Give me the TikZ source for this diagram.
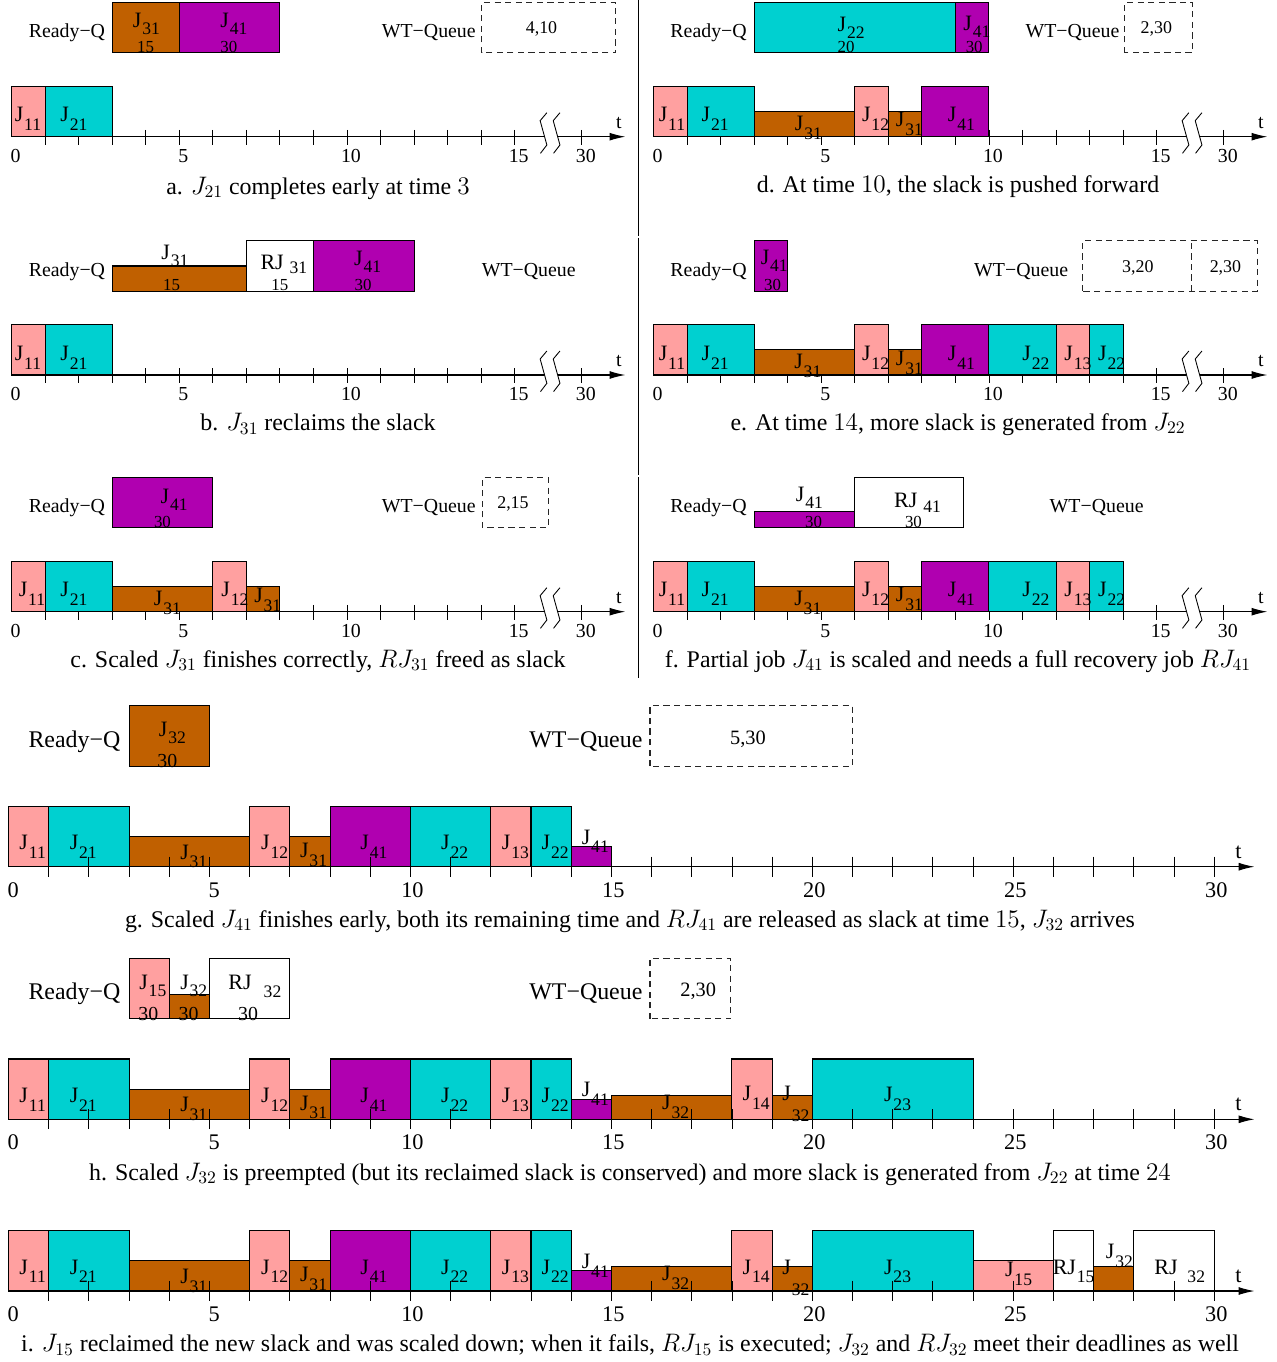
\documentclass[tikz,border=0pt]{standalone}
\usepackage[no-math]{fontspec}
\setmainfont{Liberation Serif}
\usetikzlibrary{arrows.meta}
\definecolor{jpink}{HTML}{FFA0A0}
\definecolor{jcyan}{HTML}{00D0D0}
\definecolor{jbrown}{HTML}{C06000}
\definecolor{jpurple}{HTML}{B000B0}
\newcommand\fsRQ{\fontsize{11.3}{13}\selectfont}
\newcommand\fsRQb{\fontsize{13.6}{16}\selectfont}
\newcommand\fsJ{\fontsize{12.5}{15}\selectfont}
\newcommand\fsN{\fontsize{9.6}{11}\selectfont}
\newcommand\fsNb{\fontsize{11.3}{13}\selectfont}
\newcommand\fsW{\fontsize{10.2}{12}\selectfont}
\newcommand\fsWb{\fontsize{11.6}{13}\selectfont}
\newcommand\fsT{\fontsize{11.3}{13}\selectfont}
\newcommand\fsTb{\fontsize{12.7}{15}\selectfont}
\newcommand\fsC{\fontsize{13.6}{16}\selectfont}
\newcommand\jj[2]{#1\kern0.04em\raisebox{-0.4em}{\scalebox{0.8}{#2}}}
\newcommand\jq[2]{#1\kern0.04em\raisebox{-0.33em}{\scalebox{0.8}{#2}}}
\newcommand\jx[3]{#1\kern0.04em\raisebox{#3}{\scalebox{0.8}{#2}}}
\newcommand\rj[2]{RJ\kern#2\raisebox{-0.2em}{\scalebox{0.8}{#1}}}
\tikzset{
 bx/.style={draw=black, line width=0.6pt},
 pk/.style={bx, fill=jpink}, cy/.style={bx, fill=jcyan},
 br/.style={bx, fill=jbrown}, pu/.style={bx, fill=jpurple}, wh/.style={bx, fill=white},
 dbox/.style={draw=black!85, line width=0.6pt, dash pattern=on 3.5pt off 2.5pt},
 axisline/.style={line width=0.6pt, -{Latex[length=9pt,width=4.5pt]}},
 tk/.style={line width=0.5pt},
 sep/.style={line width=0.5pt},
 jl/.style={anchor=base, inner sep=0pt, font=\fsJ},
 num/.style={anchor=base, inner sep=0pt, font=\fsN},
 numb/.style={anchor=base, inner sep=0pt, font=\fsNb},
 rq/.style={anchor=base east, inner sep=0pt, font=\fsRQ},
 rqb/.style={anchor=base east, inner sep=0pt, font=\fsRQb},
 wv/.style={inner sep=0pt, font=\fsW},
 wvb/.style={inner sep=0pt, font=\fsWb},
 tl/.style={inner sep=0pt, font=\fsT},
 tlb/.style={inner sep=0pt, font=\fsTb},
 captxt/.style={inner sep=0pt, font=\fsC},
}
\newcommand\smallaxis[1]{%
  \foreach \i in {1,...,15} {\draw[tk] (\i,0.2) -- (\i,-0.24);}
  \draw[tk] (17,0.2) -- (17,-0.24);
  \draw[axisline] (0,0) -- (18.3,0);
  \fill[white] (15.96,0.715) -- (15.76,0.477) -- (15.96,-0.247) -- (15.77,-0.495)
     -- (16.16,-0.495) -- (16.35,-0.247) -- (16.15,0.477) -- (16.35,0.715) -- cycle;
  \foreach \v/\p in {0/0,5/5,10/10,15/15,30/17} {\node[tl] (#1n\v) at (\p+0.12,-0.57) {\v};}
  \draw[tk] (15.96,0.715) -- (15.76,0.477) -- (15.96,-0.247) -- (15.77,-0.495);
  \draw[tk] (16.35,0.715) -- (16.15,0.477) -- (16.35,-0.247) -- (16.16,-0.495);
  \node[tl] (#1t) at (18.11,0.41) {t};
}
\newcommand\bigaxis[1]{%
  \draw[axisline] (0,0) -- (31,0);
  \foreach \v/\p in {0/0.12,5/5.12,10/10.05,15/15.05,20/20.05,25/25.05,30/30.05} {\node[tlb] (#1n\v) at (\p,-0.58) {\v};}
  \node[tlb] (#1t) at (30.6,0.37) {t};
}
\newcommand\bigticks{\foreach \i in {1,...,30} {\draw[tk] (\i,0.25) -- (\i,-0.25);}}
\newcommand\bigboxes{%
  \draw[pk] (0,0) rectangle (1,1.5);
  \draw[cy] (1,0) rectangle (3,1.5);
  \draw[br] (3,0) rectangle (6,0.75);
  \draw[pk] (6,0) rectangle (7,1.5);
  \draw[br] (7,0) rectangle (8,0.75);
  \draw[pu] (8,0) rectangle (10,1.5);
  \draw[cy] (10,0) rectangle (12,1.5);
  \draw[pk] (12,0) rectangle (13,1.5);
  \draw[cy] (13,0) rectangle (14,1.5);
  \draw[pu] (14,0) rectangle (15,0.5);
}
\newcommand\biglabels[1]{%
  \node[jl] (#1l1) at (0.6,0.42) {\jj{J}{11}};
  \node[jl] (#1l2) at (1.86,0.42) {\jj{J}{21}};
  \node[jl] (#1l3) at (4.61,0.19) {\jj{J}{31}};
  \node[jl] (#1l4) at (6.62,0.42) {\jj{J}{12}};
  \node[jl] (#1l5) at (7.59,0.23) {\jj{J}{31}};
  \node[jl] (#1l6) at (9.09,0.42) {\jj{J}{41}};
  \node[jl] (#1l7) at (11.1,0.42) {\jj{J}{22}};
  \node[jl] (#1l8) at (12.61,0.42) {\jj{J}{13}};
  \node[jl] (#1l9) at (13.6,0.42) {\jj{J}{22}};
  \node[jl] (#1l10) at (14.6,0.56) {\jj{J}{41}};
}
\begin{document}
\begin{tikzpicture}[x=0.02cm,y=-0.02cm]
\useasboundingbox (0,0) rectangle (1276,1362);
\draw[sep] (638,0) -- (638,235.5);
\draw[sep] (638,237.5) -- (638,475);
\draw[sep] (638,477) -- (638,678);

% ---------------- panel a
\begin{scope}[shift={(11.5,136.7)},x=0.671cm,y=0.671cm]
 \smallaxis{a}
 \draw[pk] (0,0) rectangle (1,1.5);
 \draw[cy] (1,0) rectangle (3,1.5);
 \node[jl] (al1) at (0.49,0.44) {\jj{J}{11}};
 \node[jl] (al2) at (1.86,0.44) {\jj{J}{21}};
 \node[rq] (arq) at (2.8,2.95) {Ready−Q};
 \draw[br] (3,2.5) rectangle (5,4);
 \draw[pu] (5,2.5) rectangle (8,4);
 \node[jl] (aq1) at (4.02,3.27) {\jq{J}{31}};
 \node[num] (aq1n) at (4.0,2.52) {15};
 \node[jl] (aq2) at (6.63,3.27) {\jq{J}{41}};
 \node[num] (aq2n) at (6.48,2.52) {30};
 \node[rq] (awt) at (13.85,2.95) {WT−Queue};
 \draw[dbox] (14.02,2.5) rectangle (18.02,4);
 \node[wv] (aw1) at (15.8,3.2) {4,10};
\end{scope}

% ---------------- panel b
\begin{scope}[shift={(11.5,375)},x=0.671cm,y=0.671cm]
 \smallaxis{b}
 \draw[pk] (0,0) rectangle (1,1.5);
 \draw[cy] (1,0) rectangle (3,1.5);
 \node[jl] (bl1) at (0.49,0.44) {\jj{J}{11}};
 \node[jl] (bl2) at (1.86,0.44) {\jj{J}{21}};
 \node[rq] (brq) at (2.8,2.95) {Ready−Q};
 \draw[br] (3,2.5) rectangle (7,3.25);
 \draw[wh] (7,2.5) rectangle (9,4);
 \draw[pu] (9,2.5) rectangle (12,4);
 \node[jl] (bq1) at (4.87,3.45) {\jq{J}{31}};
 \node[num] (bq1n) at (4.77,2.52) {15};
 \node[jl] (bq2) at (8.12,3.15) {\rj{31}{0.27em}};
 \node[num] (bq2n) at (8.0,2.52) {15};
 \node[jl] (bq3) at (10.62,3.27) {\jq{J}{41}};
 \node[num] (bq3n) at (10.48,2.52) {30};
 \node[rq] (bwt) at (16.83,2.95) {WT−Queue};
\end{scope}

% ---------------- panel c
\begin{scope}[shift={(11.5,611.7)},x=0.671cm,y=0.671cm]
 \smallaxis{c}
 \draw[pk] (0,0) rectangle (1,1.5);
 \draw[cy] (1,0) rectangle (3,1.5);
 \draw[br] (3,0) rectangle (6,0.75);
 \draw[pk] (6,0) rectangle (7,1.5);
 \draw[br] (7,0) rectangle (8,0.75);
 \node[jl] (cl1) at (0.61,0.44) {\jj{J}{11}};
 \node[jl] (cl2) at (1.86,0.44) {\jj{J}{21}};
 \node[jl] (cl3) at (4.65,0.18) {\jj{J}{31}};
 \node[jl] (cl4) at (6.66,0.44) {\jj{J}{12}};
 \node[jl] (cl5) at (7.64,0.28) {\jj{J}{31}};
 \node[rq] (crq) at (2.8,2.95) {Ready−Q};
 \draw[pu] (3,2.5) rectangle (6,4);
 \node[jl] (cq1) at (4.85,3.24) {\jq{J}{41}};
 \node[num] (cq1n) at (4.5,2.52) {30};
 \node[rq] (cwt) at (13.85,2.95) {WT−Queue};
 \draw[dbox] (14.03,2.5) rectangle (16.0,4);
 \node[wv] (cw1) at (14.95,3.2) {2,15};
\end{scope}

% ---------------- panel d
\begin{scope}[shift={(653.5,136.7)},x=0.671cm,y=0.671cm]
 \smallaxis{d}
 \draw[pk] (0,0) rectangle (1,1.5);
 \draw[cy] (1,0) rectangle (3,1.5);
 \draw[br] (3,0) rectangle (6,0.75);
 \draw[pk] (6,0) rectangle (7,1.5);
 \draw[br] (7,0) rectangle (8,0.75);
 \draw[pu] (8,0) rectangle (10,1.5);
 \node[jl] (dl1) at (0.55,0.44) {\jj{J}{11}};
 \node[jl] (dl2) at (1.84,0.44) {\jj{J}{21}};
 \node[jl] (dl3) at (4.62,0.18) {\jj{J}{31}};
 \node[jl] (dl4) at (6.62,0.44) {\jj{J}{12}};
 \node[jl] (dl5) at (7.63,0.29) {\jj{J}{31}};
 \node[jl] (dl6) at (9.18,0.44) {\jj{J}{41}};
 \node[rq] (drq) at (2.79,2.95) {Ready−Q};
 \draw[cy] (3,2.5) rectangle (9,4);
 \draw[pu] (9,2.5) rectangle (10,4);
 \node[jl] (dq1) at (5.89,3.14) {\jq{J}{22}};
 \node[num] (dq1n) at (5.74,2.52) {20};
 \node[jl] (dq2) at (9.64,3.16) {\jq{J}{41}};
 \node[num] (dq2n) at (9.56,2.52) {30};
 \node[rq] (dwt) at (13.9,2.95) {WT−Queue};
 \draw[dbox] (14.05,2.5) rectangle (16.06,4);
 \node[wv] (dw1) at (14.99,3.2) {2,30};
\end{scope}

% ---------------- panel e
\begin{scope}[shift={(653.5,375)},x=0.671cm,y=0.671cm]
 \smallaxis{e}
 \draw[pk] (0,0) rectangle (1,1.5);
 \draw[cy] (1,0) rectangle (3,1.5);
 \draw[br] (3,0) rectangle (6,0.75);
 \draw[pk] (6,0) rectangle (7,1.5);
 \draw[br] (7,0) rectangle (8,0.75);
 \draw[pu] (8,0) rectangle (10,1.5);
 \draw[cy] (10,0) rectangle (12,1.5);
 \draw[pk] (12,0) rectangle (13,1.5);
 \draw[cy] (13,0) rectangle (14,1.5);
 \node[jl] (el1) at (0.55,0.44) {\jj{J}{11}};
 \node[jl] (el2) at (1.84,0.44) {\jj{J}{21}};
 \node[jl] (el3) at (4.6,0.18) {\jj{J}{31}};
 \node[jl] (el4) at (6.62,0.44) {\jj{J}{12}};
 \node[jl] (el5) at (7.63,0.29) {\jj{J}{31}};
 \node[jl] (el6) at (9.18,0.44) {\jj{J}{41}};
 \node[jl] (el7) at (11.4,0.44) {\jj{J}{22}};
 \node[jl] (el8) at (12.65,0.44) {\jj{J}{13}};
 \node[jl] (el9) at (13.66,0.44) {\jj{J}{22}};
 \node[rq] (erq) at (2.79,2.95) {Ready−Q};
 \draw[pu] (3,2.5) rectangle (4,4);
 \node[jl] (eq1) at (3.6,3.3) {\jq{J}{41}};
 \node[num] (eq1n) at (3.55,2.52) {30};
 \node[rq] (ewt) at (12.37,2.95) {WT−Queue};
 \draw[dbox] (12.8,2.5) rectangle (18.0,4);
 \draw[dbox] (16.05,2.5) -- (16.05,4);
 \node[wv] (ew1) at (14.44,3.2) {3,20};
 \node[wv] (ew2) at (17.05,3.2) {2,30};
\end{scope}

% ---------------- panel f
\begin{scope}[shift={(653.5,611.7)},x=0.671cm,y=0.671cm]
 \smallaxis{f}
 \draw[pk] (0,0) rectangle (1,1.5);
 \draw[cy] (1,0) rectangle (3,1.5);
 \draw[br] (3,0) rectangle (6,0.75);
 \draw[pk] (6,0) rectangle (7,1.5);
 \draw[br] (7,0) rectangle (8,0.75);
 \draw[pu] (8,0) rectangle (10,1.5);
 \draw[cy] (10,0) rectangle (12,1.5);
 \draw[pk] (12,0) rectangle (13,1.5);
 \draw[cy] (13,0) rectangle (14,1.5);
 \node[jl] (fl1) at (0.55,0.44) {\jj{J}{11}};
 \node[jl] (fl2) at (1.84,0.44) {\jj{J}{21}};
 \node[jl] (fl3) at (4.6,0.18) {\jj{J}{31}};
 \node[jl] (fl4) at (6.62,0.44) {\jj{J}{12}};
 \node[jl] (fl5) at (7.63,0.29) {\jj{J}{31}};
 \node[jl] (fl6) at (9.18,0.44) {\jj{J}{41}};
 \node[jl] (fl7) at (11.4,0.44) {\jj{J}{22}};
 \node[jl] (fl8) at (12.65,0.44) {\jj{J}{13}};
 \node[jl] (fl9) at (13.66,0.44) {\jj{J}{22}};
 \node[rq] (frq) at (2.79,2.95) {Ready−Q};
 \draw[pu] (3,2.5) rectangle (6,3.0);
 \draw[wh] (6,2.5) rectangle (9.25,4);
 \node[jl] (fq1) at (4.65,3.3) {\jq{J}{41}};
 \node[num] (fq1n) at (4.77,2.52) {30};
 \node[jl] (fq2) at (7.87,3.1) {\rj{41}{0.27em}};
 \node[num] (fq2n) at (7.75,2.52) {30};
 \node[rq] (fwt) at (14.62,2.95) {WT−Queue};
\end{scope}

% ---------------- panel g
\begin{scope}[shift={(8.5,866.7)},x=0.804cm,y=0.804cm]
 \bigaxis{g}
 \bigboxes
 \bigticks
 \biglabels{g}
 \node[rqb] (grq) at (2.79,2.97) {Ready−Q};
 \draw[br] (3,2.5) rectangle (5,4);
 \node[jl] (gq1) at (4.08,3.25) {\jq{J}{32}};
 \node[numb] (gq1n) at (3.95,2.47) {30};
 \node[rqb] (gwt) at (15.78,2.97) {WT−Queue};
 \draw[dbox] (15.96,2.5) rectangle (21.0,4);
 \node[wvb] (gw1) at (18.4,3.18) {5,30};
\end{scope}

% ---------------- panel h
\begin{scope}[shift={(8.5,1119.3)},x=0.804cm,y=0.804cm]
 \bigaxis{h}
 \bigboxes
 \draw[br] (15,0) rectangle (18,0.6);
 \draw[pk] (18,0) rectangle (19,1.5);
 \draw[br] (19,0) rectangle (20,0.6);
 \draw[cy] (20,0) rectangle (24,1.5);
 \bigticks
 \biglabels{h}
 \node[jl] (hl11) at (16.6,0.25) {\jj{J}{32}};
 \node[jl] (hl12) at (18.6,0.47) {\jj{J}{14}};
 \node[jl] (hl13) at (19.59,0.47) {\jx{J}{32}{-0.95em}};
 \node[jl] (hl14) at (22.12,0.45) {\jj{J}{23}};
 \node[rqb] (hrq) at (2.79,2.97) {Ready−Q};
 \draw[pk] (3,2.5) rectangle (4,4);
 \draw[br] (4,2.5) rectangle (5,3.1);
 \draw[wh] (5,2.5) rectangle (7,4);
 \node[jl] (hq1) at (3.59,3.24) {\jq{J}{15}};
 \node[numb] (hq1n) at (3.48,2.47) {30};
 \node[jl] (hq2) at (4.61,3.23) {\jq{J}{32}};
 \node[numb] (hq2n) at (4.48,2.47) {30};
 \node[jl] (hq3) at (6.13,3.24) {RJ\kern0.55em\raisebox{-0.38em}{\scalebox{0.8}{32}}};
 \node[numb] (hq3n) at (5.96,2.47) {30};
 \node[rqb] (hwt) at (15.78,2.97) {WT−Queue};
 \draw[dbox] (15.96,2.5) rectangle (17.97,4);
 \node[wvb] (hw1) at (17.16,3.18) {2,30};
\end{scope}

% ---------------- panel i
\begin{scope}[shift={(8.5,1291)},x=0.804cm,y=0.804cm]
 \bigaxis{i}
 \bigboxes
 \draw[br] (15,0) rectangle (18,0.6);
 \draw[pk] (18,0) rectangle (19,1.5);
 \draw[br] (19,0) rectangle (20,0.6);
 \draw[cy] (20,0) rectangle (24,1.5);
 \draw[pk] (24,0) rectangle (26,0.75);
 \draw[wh] (26,0) rectangle (27,1.5);
 \draw[br] (27,0) rectangle (28,0.6);
 \draw[wh] (28,0) rectangle (30,1.5);
 \bigticks
 \biglabels{i}
 \node[jl] (il11) at (16.6,0.25) {\jj{J}{32}};
 \node[jl] (il12) at (18.6,0.42) {\jj{J}{14}};
 \node[jl] (il13) at (19.59,0.4) {\jx{J}{32}{-0.95em}};
 \node[jl] (il14) at (22.12,0.42) {\jj{J}{23}};
 \node[jl] (il15) at (25.13,0.36) {\jj{J}{15}};
 \node[jl] (il16) at (26.5,0.42) {\jx{RJ}{15}{-0.4em}};
 \node[jl] (il17) at (27.64,0.8) {\jj{J}{32}};
 \node[jl] (il18) at (29.14,0.42) {RJ\kern0.45em\raisebox{-0.4em}{\scalebox{0.8}{32}}};
\end{scope}

% ---------------- captions
\node[captxt] (capa) at (318,188) {a. $J_{21}$ completes early at time $3$};
\node[captxt] (capb) at (318,424) {b. $J_{31}$ reclaims the slack};
\node[captxt] (capc) at (318,661) {c. Scaled $J_{31}$ finishes correctly, $RJ_{31}$ freed as slack};
\node[captxt] (capd) at (958,187) {d. At time $10$, the slack is pushed forward};
\node[captxt] (cape) at (958,424) {e. At time $14$, more slack is generated from $J_{22}$};
\node[captxt] (capf) at (958,661) {f. Partial job $J_{41}$ is scaled and needs a full recovery job $RJ_{41}$};
\node[captxt] (capg) at (630,921) {g. Scaled $J_{41}$ finishes early, both its remaining time and $RJ_{41}$ are released as slack at time $15$, $J_{32}$ arrives};
\node[captxt] (caph) at (630,1174) {h. Scaled $J_{32}$ is preempted (but its reclaimed slack is conserved) and more slack is generated from $J_{22}$ at time $24$};
\node[captxt] (capi) at (630,1345) {i. $J_{15}$ reclaimed the new slack and was scaled down; when it fails, $RJ_{15}$ is executed; $J_{32}$ and $RJ_{32}$ meet their deadlines as well};
\end{tikzpicture}
\end{document}
